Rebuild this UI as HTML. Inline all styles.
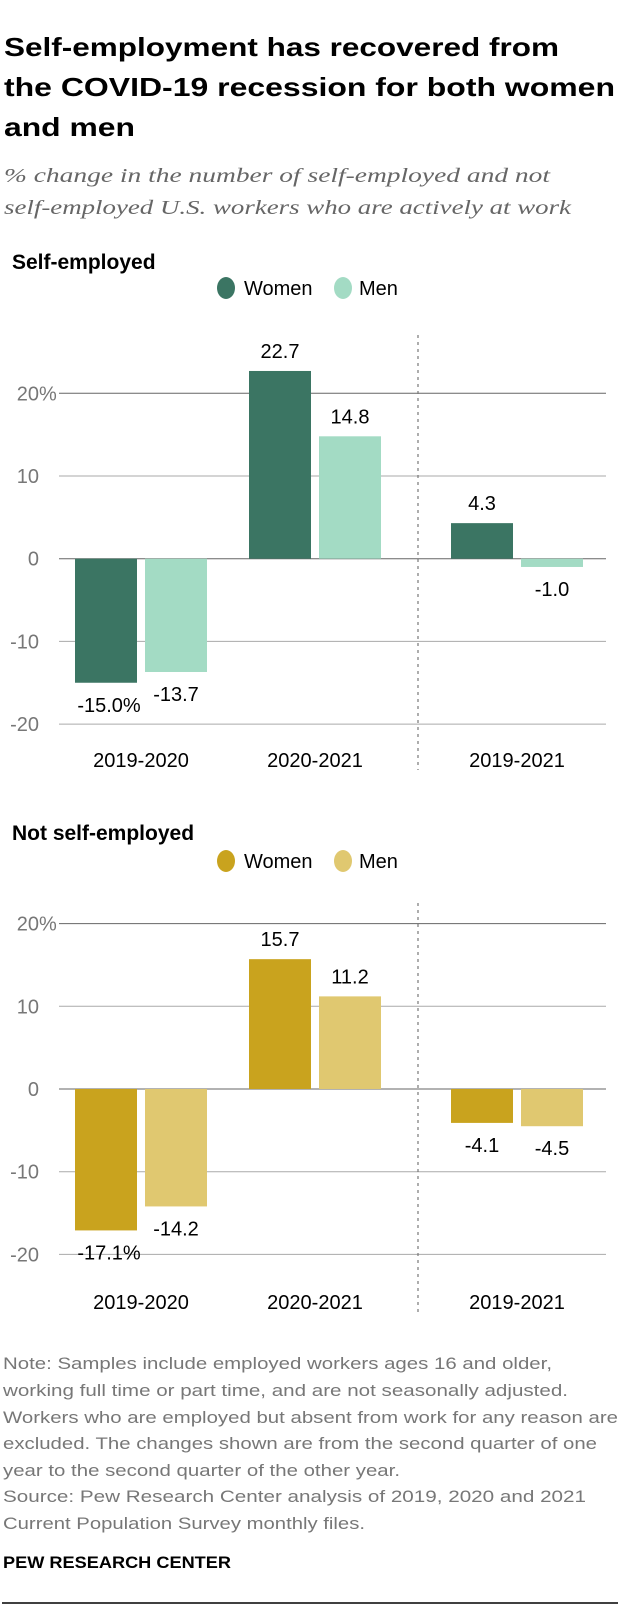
<!DOCTYPE html>
<html><head><meta charset="utf-8"><style>
body{margin:0;background:#fff}
svg{display:block;font-family:"Liberation Sans",sans-serif}
</style></head><body>
<svg id="svg" width="620" height="1608" viewBox="0 0 620 1608">
<g font-weight="bold" font-size="26" fill="#000">
<text x="4" y="56" textLength="555" lengthAdjust="spacingAndGlyphs">Self-employment has recovered from</text>
<text x="4" y="96" textLength="611" lengthAdjust="spacingAndGlyphs">the COVID-19 recession for both women</text>
<text x="4" y="136" textLength="131" lengthAdjust="spacingAndGlyphs">and men</text>
</g>
<g font-style="italic" font-size="20" fill="#666" font-family="Liberation Serif, serif">
<text x="4" y="182" textLength="546" lengthAdjust="spacingAndGlyphs">% change in the number of self-employed and not</text>
<text x="4" y="214" textLength="567" lengthAdjust="spacingAndGlyphs">self-employed U.S. workers who are actively at work</text>
</g>
<g id="c1"></g>
<g id="c2"></g>
<g font-size="17" fill="#777">
<text x="3" y="1369" textLength="549" lengthAdjust="spacingAndGlyphs">Note: Samples include employed workers ages 16 and older,</text>
<text x="3" y="1396" textLength="565" lengthAdjust="spacingAndGlyphs">working full time or part time, and are not seasonally adjusted.</text>
<text x="3" y="1423" textLength="615" lengthAdjust="spacingAndGlyphs">Workers who are employed but absent from work for any reason are</text>
<text x="3" y="1449" textLength="594" lengthAdjust="spacingAndGlyphs">excluded. The changes shown are from the second quarter of one</text>
<text x="3" y="1476" textLength="397" lengthAdjust="spacingAndGlyphs">year to the second quarter of the other year.</text>
</g>
<g font-size="17" fill="#777">
<text x="3" y="1502" textLength="583" lengthAdjust="spacingAndGlyphs">Source: Pew Research Center analysis of 2019, 2020 and 2021</text>
<text x="3" y="1529" textLength="362" lengthAdjust="spacingAndGlyphs">Current Population Survey monthly files.</text>
</g>
<text x="3" y="1568" font-size="17" font-weight="bold" fill="#000" textLength="228" lengthAdjust="spacingAndGlyphs">PEW RESEARCH CENTER</text>
<line x1="2" y1="1603" x2="618" y2="1603" stroke="#000" stroke-width="1.5"/>
</svg>
<script>
const categories = ["2019-2020","2020-2021","2019-2021"];
const selfWomen = [-15.0, 22.7, 4.3];
const selfMen = [-13.7, 14.8, -1.0];
const notSelfWomen = [-17.1, 15.7, -4.1];
const notSelfMen = [-14.2, 11.2, -4.5];
const tickValues = [20, 10, 0, -10, -20];
const tickLabels = ["20","10","0","-10","-20"];

const NS = "http://www.w3.org/2000/svg";
function mk(tag, attrs, parent, txt){
  const e = document.createElementNS(NS, tag);
  for (const k in attrs) e.setAttribute(k, attrs[k]);
  if (txt !== undefined) e.textContent = txt;
  parent.appendChild(e);
  return e;
}
const groupX = [75, 249, 451];
const barW = 62, barGap = 8;

function drawChart(g, cfg){
  const y = v => cfg.zero - v * cfg.scale;
  const t = mk('text', {x:12, y:cfg.titleY, 'font-size':21, 'font-weight':'bold', fill:'#000'}, g, cfg.title);
  
  
  const lg = mk('g', {}, g);
  
  
  const c1 = mk('ellipse', {cx:226, cy:cfg.legendY, rx:9, ry:11, fill:cfg.colors[0]}, lg);
  
  
  const l1 = mk('text', {x:244, y:cfg.legendY+7, 'font-size':20, fill:'#000'}, lg, 'Women');
  
  
  const c2 = mk('ellipse', {cx:343, cy:cfg.legendY, rx:9, ry:11, fill:cfg.colors[1]}, lg);
  
  
  const l2 = mk('text', {x:359, y:cfg.legendY+7, 'font-size':20, fill:'#000'}, lg, 'Men');
  
  
  tickValues.forEach((v, i) => {
    const ln = mk('line', {x1:59, x2:606, y1:y(v), y2:y(v), stroke: (v===0||v===20) ? '#666' : '#aaa', 'stroke-width':1}, g);
    
    
    const tl = mk('text', {x:39, y:y(v)+7, 'font-size':20, fill:'#777', 'text-anchor':'end'}, g, tickLabels[i]);
    
    
    if (i === 0) {
      const pc = mk('text', {x:39, y:y(v)+7, 'font-size':20, fill:'#777'}, g, '%');
      
      
    }
  });
  const dl = mk('line', {x1:418, x2:418, y1:cfg.divTop, y2:cfg.divBot, stroke:'#777', 'stroke-width':1.2, 'stroke-dasharray':'3,4'}, g);
  
  
  [cfg.women, cfg.men].forEach((series, s) => {
    series.forEach((v, i) => {
      const x = groupX[i] + s * (barW + barGap);
      const top = Math.min(y(0), y(v)), h = Math.abs(y(v) - y(0));
      const r = mk('rect', {x:x, y:top, width:barW, height:h, fill:cfg.colors[s]}, g);
      
      
      let txt = v.toFixed(1);
      if (i === 0 && s === 0) txt += '%';
      const ly = v >= 0 ? y(v) - 13 : y(v) + 29;
      const vl = mk('text', {x:x + barW/2 + (txt.endsWith('%') ? 3 : 0), y:ly, 'font-size':20, fill:'#000', 'text-anchor':'middle'}, g, txt);
      
      
    });
  });
  categories.forEach((c, i) => {
    const cx = groupX[i] + barW + barGap/2;
    const cl = mk('text', {x:cx, y:cfg.catY, 'font-size':20, fill:'#000', 'text-anchor':'middle'}, g, c);
    
    
  });
}
const g1 = document.getElementById('c1');


drawChart(g1, {title:'Self-employed', titleY:269, legendY:288, zero:558.7, scale:8.27,
  divTop:335, divBot:770, catY:767, women:selfWomen, men:selfMen, colors:['#3b7563','#a3dbc4']});
const g2 = document.getElementById('c2');


drawChart(g2, {title:'Not self-employed', titleY:840, legendY:861, zero:1089, scale:8.27,
  divTop:903, divBot:1314, catY:1309, women:notSelfWomen, men:notSelfMen, colors:['#c9a31e','#e0c870']});
</script>
</body></html>
